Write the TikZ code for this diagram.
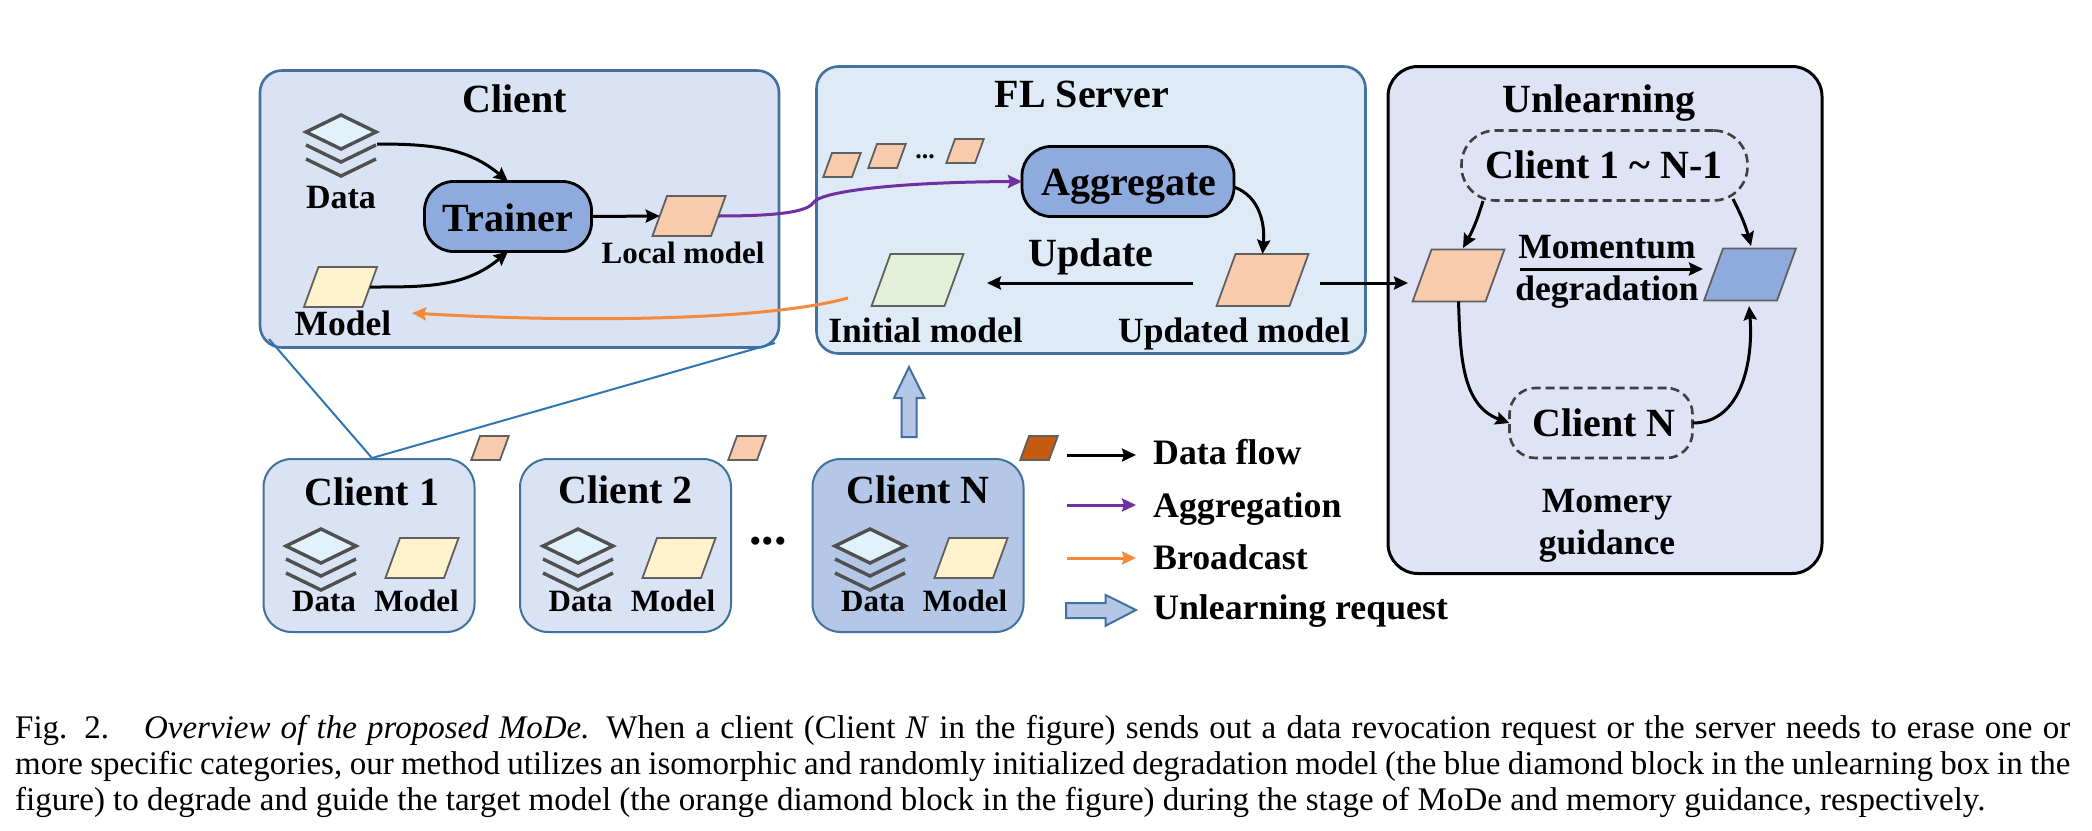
\documentclass[tikz,border=0pt]{standalone}
\usepackage{fontspec}
\setmainfont{Liberation Serif}
\usetikzlibrary{arrows.meta,positioning,shapes.geometric}
\definecolor{boxline}{HTML}{41719C}
\definecolor{linkline}{HTML}{2E75B6}
\definecolor{clientfill}{HTML}{DAE3F3}
\definecolor{serverfill}{HTML}{DEEAF6}
\definecolor{unlearnfill}{HTML}{DFE3F5}
\definecolor{requestfill}{HTML}{B4C7E7}
\definecolor{blockblue}{HTML}{8FAADC}
\definecolor{paraline}{HTML}{606060}
\definecolor{stackline}{HTML}{505050}
\definecolor{stackfill}{HTML}{E2F2FA}
\definecolor{localfill}{HTML}{F8CBAD}
\definecolor{modelfill}{HTML}{FFF2CC}
\definecolor{initfill}{HTML}{E2F0D9}
\definecolor{targetfill}{HTML}{C55A11}
\definecolor{aggline}{HTML}{7030A0}
\definecolor{castline}{HTML}{F58A3C}
\tikzset{
  bigbox/.style={draw=boxline,line width=2.6pt,inner sep=0pt,outer sep=0pt,rounded corners=22pt},
  smallbox/.style={draw=boxline,line width=2pt,inner sep=0pt,outer sep=0pt,rounded corners=28pt,minimum width=211pt,minimum height=173pt},
  block/.style={draw=black,line width=2.8pt,fill=blockblue,inner sep=0pt,outer sep=0pt,rounded corners=29pt,minimum height=70pt},
  dashbox/.style={draw=black!75,line width=2.6pt,dash pattern=on 9pt off 5pt,inner sep=0pt,outer sep=0pt,minimum height=70pt},
  para/.style={trapezium,trapezium left angle=70,trapezium right angle=110,draw=paraline,line width=1.8pt,inner sep=0pt,outer sep=0pt},
  bigpara/.style={para,node contents={\hspace{54pt}\rule{0pt}{52pt}}},
  modelpara/.style={para,node contents={\hspace{44pt}\rule{0pt}{40pt}}},
  tinypara/.style={para,fill=localfill,node contents={\hspace{20pt}\rule{0pt}{24pt}}},
  head/.style={font=\bfseries\fontsize{40}{44}\selectfont,anchor=base,inner sep=0pt},
  mid/.style={font=\bfseries\fontsize{35.5}{40}\selectfont,anchor=base,inner sep=0pt},
  key/.style={font=\bfseries\fontsize{35.8}{40}\selectfont,anchor=base west,inner sep=0pt},
  low/.style={font=\bfseries\fontsize{31}{36}\selectfont,anchor=base,inner sep=0pt},
  flow/.style={->,line width=3pt,draw=black},
  aggflow/.style={->,line width=3pt,draw=aggline},
  castflow/.style={->,line width=3pt,draw=castline},
  fatarrow/.style={draw=boxline,line width=2pt,fill=requestfill},
  datastack/.pic={
    \draw[draw=stackline,line width=3.4pt,fill=stackfill] (-35,-14) -- (0,-31) -- (35,-14) -- (0,3) -- cycle;
    \draw[draw=stackline,line width=3.4pt] (-35,-1) -- (0,16) -- (35,-1);
    \draw[draw=stackline,line width=3.4pt] (-35,13) -- (0,30) -- (35,13);
  }
}
\begin{document}
\begin{tikzpicture}[x=1pt,y=-1pt,>={Stealth[length=14pt,width=13pt,inset=2pt]}]
\useasboundingbox (0,0) rectangle (2092,830);
% the three large boxes
\node[bigbox,fill=clientfill,minimum width=519pt,minimum height=277pt] (client) at (519.5,209) {};
\node[bigbox,fill=serverfill,minimum width=549pt,minimum height=287pt] (server) at (1091,210) {};
\node[bigbox,draw=black,line width=3pt,rounded corners=30pt,fill=unlearnfill,minimum width=434pt,minimum height=507pt] (unlearn) at (1605,320) {};
\node[head] (clienttitle) at (515,112) {Client};
\node[head] (servertitle) at (1082,107) {FL Server};
\node[head] (unlearntitle) at (1599,112) {Unlearning};

% inside the client
\pic at (341,146) {datastack};
\coordinate (dataout) at (377,144);
\node[mid,font=\bfseries\fontsize{34}{40}\selectfont] (datatext) at (341,208) {Data};
\node[block,minimum width=167pt] (trainer) at (508,216.5) {};
\node[head] (trainertext) at (508,231) {Trainer};
\node (localmodel) at (689,216) [modelpara,fill=localfill];
\node[low] (localtext) at (683,263) {Local model};
\node (model) at (340.5,287) [modelpara,fill=modelfill];
\node[mid] (modeltext) at (343,335) {Model};

% inside the server
\node (tiny1) at (842,165) [tinypara];
\node (tiny2) at (887,156) [tinypara];
\node[font=\bfseries\fontsize{26}{30}\selectfont,inner sep=0pt,anchor=base] (tinydots) at (925,158.5) {...};
\node (tiny3) at (965,151) [tinypara];
\node[block,minimum width=212pt] (aggregate) at (1128,181.5) {};
\node[head] (aggregatetext) at (1129,195) {Aggregate};
\node[head] (updatetext) at (1091,266) {Update};
\node (initial) at (917.5,280) [bigpara,fill=initfill];
\node (updated) at (1262.5,280) [bigpara,fill=localfill];
\node[mid] (initialtext) at (925.5,342) {Initial model};
\node[mid] (updatedtext) at (1234,342) {Updated model};

% inside the unlearning box
\node[dashbox,rounded corners=34pt,minimum width=286pt] (rest) at (1604.5,165.5) {};
\node[head] (resttext) at (1604,178) {Client 1 \textasciitilde\ N-1};
\node (target) at (1458.5,275.5) [bigpara,fill=localfill];
\node (degrade) at (1750,274.5) [bigpara,fill=blockblue];
\node[mid] (momentumtext) at (1607,258) {Momentum};
\node[mid] (degradetext) at (1607,300.5) {degradation};
\node[dashbox,rounded corners=26pt,minimum width=183pt] (clientn) at (1601,423) {};
\node[head] (clientntext) at (1604,436) {Client N};
\node[mid] (guidetext1) at (1607,512) {Momery};
\node[mid] (guidetext2) at (1607,554.5) {guidance};

% bottom row of clients
\node[smallbox,fill=clientfill] (c1) at (369,545.5) {};
\node[smallbox,fill=clientfill] (c2) at (625.5,545.5) {};
\node[smallbox,fill=requestfill] (cn) at (918,545.5) {};
\node[head] (c1text) at (372,505) {Client 1};
\node[head] (c2text) at (625.5,503) {Client 2};
\node[head] (cntext) at (918,503) {Client N};
\pic at (321,560) {datastack};
\pic at (578,560) {datastack};
\pic at (870,560) {datastack};
\node (m1) at (422,558) [modelpara,fill=modelfill];
\node (m2) at (679,558) [modelpara,fill=modelfill];
\node (mn) at (971,558) [modelpara,fill=modelfill];
\node[low] (d1) at (324,611) {Data};
\node[low] (d2) at (580.5,611) {Data};
\node[low] (dn) at (873,611) {Data};
\node[low] (t1) at (416.5,611) {Model};
\node[low] (t2) at (673,611) {Model};
\node[low] (tn) at (965,611) {Model};
\node (s1) at (490,448) [tinypara];
\node (s2) at (747,448) [tinypara];
\node (sn) at (1039,448) [tinypara,fill=targetfill];
\node[font=\bfseries\fontsize{50}{52}\selectfont,inner sep=0pt,anchor=base] (rowdots) at (768,544.5) {...};

% links from the client box
\coordinate (linkleft) at (269,339);
\coordinate (linkright) at (775,343);
\coordinate (linktip) at (372,458);
\draw[draw=linkline,line width=2pt] (linkleft) -- (linktip) -- (linkright);

% request arrow
\draw[fatarrow] (901.5,437) -- (901.5,398) -- (894,398) -- (909,367) -- (924.4,398) -- (916.6,398) -- (916.6,437) -- cycle;

% data flow in the blocks
\coordinate (castfrom) at (848,298);
\coordinate (castto) at (412,313);
\coordinate (aggbend) at (813,203);
\coordinate (aggout) at (1234,187);
\coordinate (updatefrom) at (1193,283);
\coordinate (updateto) at (987,283);
\coordinate (sendfrom) at (1320,283);
\coordinate (sendto) at (1408,283);
\coordinate (restleft) at (1483,201);
\coordinate (restright) at (1733,199);
\coordinate (targettop) at (1463,248);
\coordinate (degradetop) at (1751,246);
\coordinate (degradelow) at (1749,306);
\coordinate (momfrom) at (1520,269);
\coordinate (momto) at (1703,269);
\path (dataout)   edge [flow,out=0,in=140]  (trainer.north)
      (model.east) edge [flow,out=0,in=-140] (trainer.south)
      (trainer.east) edge [flow] (localmodel.west)
      (aggout) edge [flow,out=-20,in=85] (updated.north)
      (updatefrom) edge [flow] (updateto)
      (sendfrom) edge [flow] (sendto)
      (restleft) edge [flow,bend left=6] (targettop)
      (restright) edge [flow,bend left=6] (degradetop)
      (momfrom) edge [flow] (momto)
      (target.south) edge [flow,out=-88,in=160] (clientn.west)
      (clientn.east) edge [flow,out=0,in=-85] (degradelow);
\draw[aggflow] (localmodel.east) .. controls (770,216) and (806,213) .. (aggbend) .. controls (820,191) and (900,182) .. (aggregate.west);
\draw[castflow] (castfrom) .. controls (760,322) and (560,322) .. (castto);

% legend
\coordinate (flowa) at (1067,455);
\coordinate (flowb) at (1136,455);
\coordinate (agga) at (1067,505);
\coordinate (aggb) at (1136,505);
\coordinate (casta) at (1067,558);
\coordinate (castb) at (1136,558);
\draw[flow] (flowa) -- (flowb);
\draw[aggflow] (agga) -- (aggb);
\draw[castflow] (casta) -- (castb);
\draw[fatarrow] (1066,603) -- (1105.7,603) -- (1105.7,595) -- (1136,610) -- (1105.7,625.7) -- (1105.7,618) -- (1066,618) -- cycle;
\node[key] (keyflow) at (1153,464) {Data flow};
\node[key] (keyagg) at (1153,517) {Aggregation};
\node[key] (keycast) at (1153,569) {Broadcast};
\node[key] (keyreq) at (1153,619) {Unlearning request};

% caption
\node[font=\fontsize{33}{36}\selectfont,anchor=north west,inner sep=0pt,text width=2055pt,align=justify] (caption) at (15,715)
  {Fig. 2.\hspace{0.55em} \textit{Overview of the proposed MoDe.} When a client (Client \textit{N} in the figure) sends out a data revocation request or the server needs to erase one or\linebreak more specific categories, our method utilizes an isomorphic and randomly initialized degradation model (the blue diamond block in the unlearning box in the\linebreak figure) to degrade and guide the target model (the orange diamond block in the figure) during the stage of MoDe and memory guidance, respectively.};
\end{tikzpicture}
\end{document}
